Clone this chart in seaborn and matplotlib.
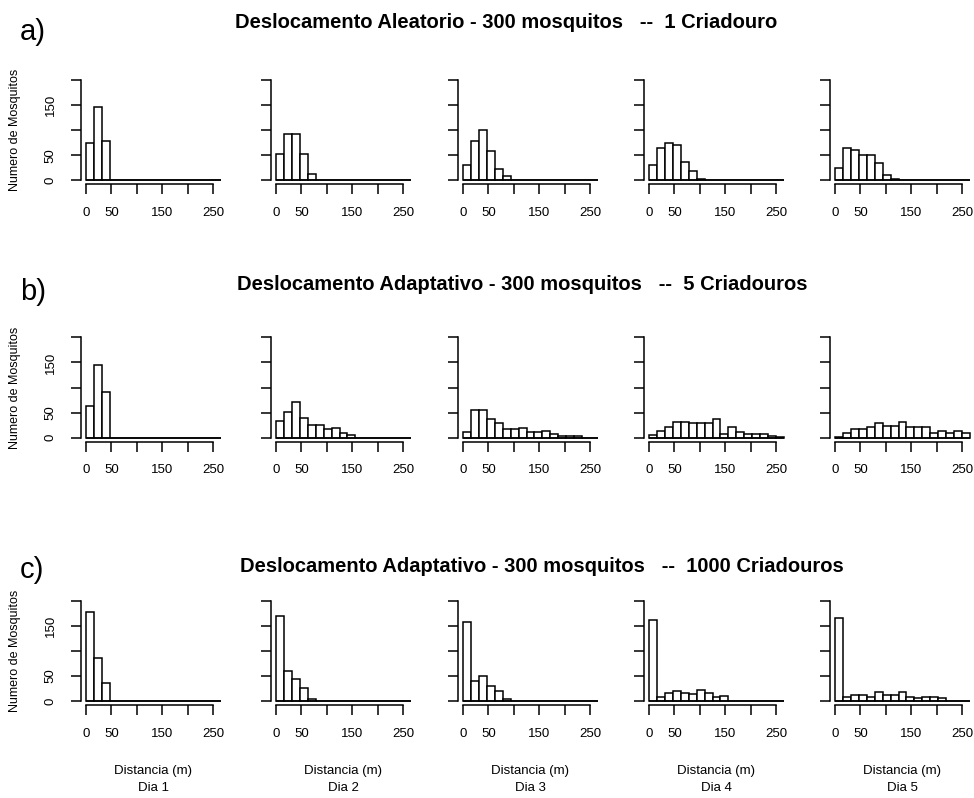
import pandas as pd
import seaborn as sns
import matplotlib.pyplot as plt

# bin edges (m): 17 bins of 15.625 m, as in the R histograms
edges = [i * 15.625 for i in range(18)]
centers = [(a + b) / 2 for a, b in zip(edges[:-1], edges[1:])]

# counts per bin, one list per day (Dia 1..5)
aleatorio_1 = [
    [75, 146, 79],
    [52, 92, 92, 52, 12],
    [30, 79, 101, 59, 23, 8],
    [31, 65, 74, 71, 37, 19, 3],
    [25, 65, 60, 51, 51, 34, 11, 3],
]
adaptativo_5 = [
    [63, 145, 92],
    [34, 51, 72, 40, 26, 26, 18, 19, 9, 5],
    [12, 56, 56, 38, 29, 18, 18, 20, 11, 11, 14, 8, 3, 3, 3],
    [6, 14, 21, 32, 32, 30, 30, 29, 37, 8, 21, 11, 8, 8, 8, 4, 1],
    [1, 9, 18, 18, 22, 30, 24, 24, 31, 22, 21, 22, 10, 14, 10, 14, 10],
]
adaptativo_1000 = [
    [178, 86, 36],
    [169, 60, 43, 25, 3],
    [158, 39, 50, 30, 20, 3],
    [161, 8, 16, 19, 16, 13, 21, 15, 7, 9],
    [165, 8, 11, 11, 8, 17, 11, 11, 17, 8, 5, 8, 8, 5],
]

row_titles = [
    "Deslocamento Aleatorio - 300 mosquitos   --  1 Criadouro",
    "Deslocamento Adaptativo - 300 mosquitos   --  5 Criadouros",
    "Deslocamento Adaptativo - 300 mosquitos   --  1000 Criadouros",
]
row_letters = ["a)", "b)", "c)"]
dias = ["Dia 1", "Dia 2", "Dia 3", "Dia 4", "Dia 5"]
x_ticks = [0, 50, 100, 150, 200, 250]
x_ticklabels = ["0", "50", "", "150", "", "250"]
y_ticks = [0, 50, 100, 150, 200]
y_ticklabels = ["0", "50", "", "150", ""]

sns.set_style("ticks", {"axes.edgecolor": "black", "text.color": "black",
                        "xtick.color": "black", "ytick.color": "black",
                        "axes.labelcolor": "black"})
plt.rcParams["font.family"] = ["Liberation Sans Narrow", "Liberation Sans", "DejaVu Sans"]

W, H = 974, 798
fig = plt.figure(figsize=(W / 100, H / 100), dpi=100)

# layout in pixels
x_zero = [86, 276, 463, 649, 835]
y_zero = [180.3, 437.7, 701]
px_x = 127.0 / 250
px_y = 100.3 / 200
ax_w = (276.2 + 10.6) * px_x
ax_h = 216 * px_y
title_y = [22, 284, 567]
title_x = [235, 237, 240]
letter_y = [32, 292, 570]

rows = [aleatorio_1, adaptativo_5, adaptativo_1000]

for r, row in enumerate(rows):
    for c, counts in enumerate(row):
        left = x_zero[c] - 10.6 * px_x
        bottom = y_zero[r] + 8 * px_y
        ax = fig.add_axes([left / W, 1 - bottom / H, ax_w / W, ax_h / H])
        df = pd.DataFrame({"dist": centers,
                           "n": counts + [0] * (17 - len(counts))})
        sns.histplot(data=df, x="dist", weights="n", bins=edges, ax=ax,
                     color="white", edgecolor="black", linewidth=1.1, alpha=1)
        # R draws the empty bins as a flat line along zero
        ax.hlines(0, edges[0], edges[-1], color="black", linewidth=1.1)
        ax.set_xlim(-10.6, 276.2)
        ax.set_ylim(-8, 208)
        ax.set_xlabel("")
        ax.set_ylabel("")
        for s in ["top", "right"]:
            ax.spines[s].set_visible(False)
        ax.spines["left"].set_bounds(0, 200)
        ax.spines["bottom"].set_bounds(0, 250)
        ax.spines["left"].set_linewidth(1.1)
        ax.spines["bottom"].set_linewidth(1.1)
        ax.set_xticks(x_ticks)
        ax.set_xticklabels(x_ticklabels)
        ax.set_yticks(y_ticks)
        if c == 0:
            ax.set_yticklabels(y_ticklabels, rotation=90, va="center")
        else:
            ax.set_yticklabels([])
        ax.tick_params(axis="both", length=7.2, width=1.1, labelsize=9.5)
        ax.tick_params(axis="x", pad=9)
        ax.tick_params(axis="y", pad=10)

        if r == 2:
            cx = (left + ax_w / 2) / W
            fig.text(cx, 1 - 771 / H, "Distancia (m)", ha="center", va="center", fontsize=9.5)
            fig.text(cx, 1 - 788 / H, dias[c], ha="center", va="center", fontsize=9.5)

    fig.text(title_x[r] / W, 1 - title_y[r] / H, row_titles[r], ha="left", va="center",
             fontsize=14.5, fontweight="bold")
    fig.text(20 / W, 1 - letter_y[r] / H, row_letters[r], ha="left", va="center", fontsize=21)
    fig.text(15 / W, 1 - (y_zero[r] - 50 * px_y * 2) / H, "Numero de Mosquitos",
             ha="center", va="center", rotation=90, fontsize=9)

fig.savefig("out.png", dpi=100)
